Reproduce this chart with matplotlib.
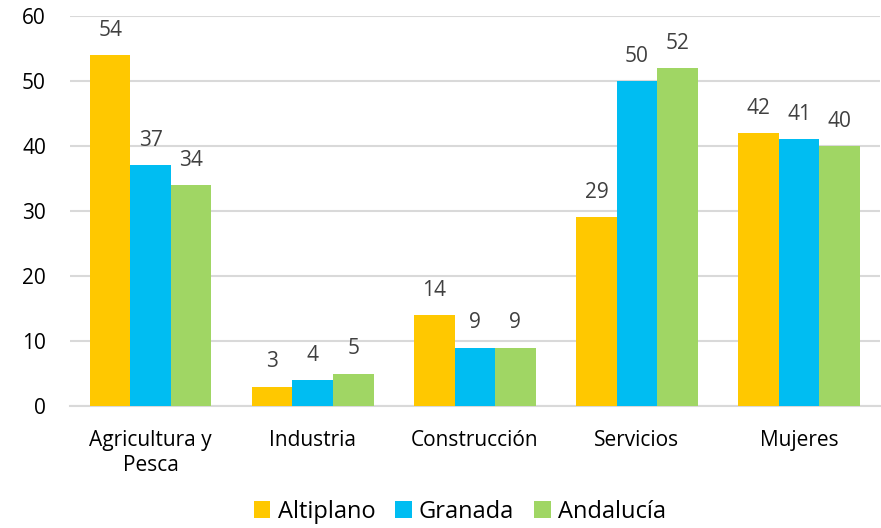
import matplotlib
matplotlib.use("Agg")
import matplotlib.pyplot as plt
import numpy as np

plt.rcParams['font.family'] = ['Open Sans', 'DejaVu Sans']

categories = ["Agricultura y\nPesca", "Industria", "Construcción", "Servicios", "Mujeres"]
series_names = ["Altiplano", "Granada", "Andalucía"]
altiplano = [54, 3, 14, 29, 42]
granada = [37, 4, 9, 50, 41]
andalucia = [34, 5, 9, 52, 40]
colors = ["#FFC800", "#00BDF2", "#A0D664"]

fig = plt.figure(figsize=(8.81, 5.28), dpi=100)
ax = fig.add_axes([0.079, 0.231, 0.92, 0.739])

x = np.arange(len(categories))
w = 0.25
for i, (vals, name, c) in enumerate(zip([altiplano, granada, andalucia], series_names, colors)):
    bars = ax.bar(x + (i - 1) * w, vals, w, color=c, label=name, zorder=3)
    for b, v in zip(bars, vals):
        ax.text(b.get_x() + b.get_width() / 2, v + 2.2, str(v), ha='center', va='bottom',
                fontsize=15, color='#404040')

ax.set_ylim(0, 60)
ax.set_xlim(-0.5, len(categories) - 0.5)
ax.set_yticks(range(0, 61, 10))
ax.set_xticks(x)
ax.set_xticklabels(categories, fontsize=15, color='black', linespacing=1.3)
ax.tick_params(axis='y', labelsize=15, length=0, pad=17, labelcolor='black')
ax.tick_params(axis='x', length=0, pad=17)
ax.yaxis.grid(True, color='#D9D9D9', linewidth=1.5, zorder=0)
for s in ['top', 'right', 'left']:
    ax.spines[s].set_visible(False)
ax.spines['bottom'].set_color('#D9D9D9')
ax.spines['bottom'].set_linewidth(1.5)

fig.legend(loc='lower center', bbox_to_anchor=(0.522, -0.032), ncol=3, frameon=False,
           fontsize=17, handlelength=0.7, handleheight=0.7, handletextpad=0.3, columnspacing=0.85)

fig.savefig("out.png", dpi=100)
